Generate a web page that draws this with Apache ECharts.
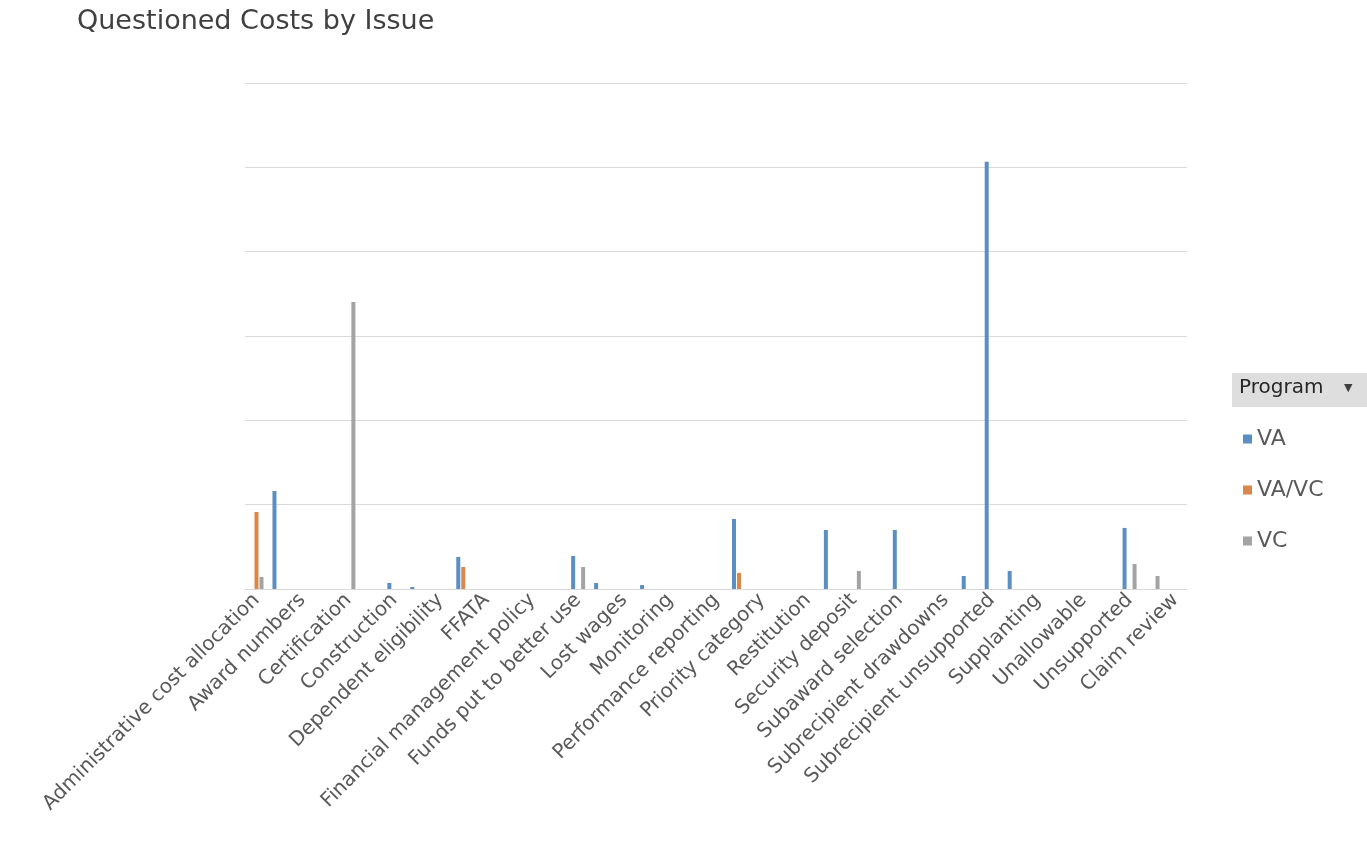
<!DOCTYPE html>
<html>
<head>
<meta charset="utf-8">
<script src="https://cdn.jsdelivr.net/npm/echarts@6/dist/echarts.min.js"></script>
<style>
html,body{margin:0;padding:0;background:#fff;}
#chart{width:1367px;height:858px;}
</style>
</head>
<body>
<div id="chart"></div>
<script>
// Visible issue labels (the chart shows every other category label)
const visibleIssues = [
  'Administrative cost allocation','Award numbers','Certification','Construction',
  'Dependent eligibility','FFATA','Financial management policy','Funds put to better use',
  'Lost wages','Monitoring','Performance reporting','Priority category','Restitution',
  'Security deposit','Subaward selection','Subrecipient drawdowns','Subrecipient unsupported',
  'Supplanting','Unallowable','Unsupported','Claim review'
];
const seriesNames = ['VA','VA/VC','VC'];
// Values per category slot (41 slots; labels shown on even slots)
const vaValues = [0,116200,0,0,0,0,7100,2400,0,38000,0,0,0,0,39100,7100,0,4700,0,0,0,83000,0,0,0,70000,0,0,70000,0,0,15400,506500,21400,0,0,0,0,72400,0,0];
const vavcValues = [91300,0,0,0,0,0,0,0,0,26100,0,0,0,0,0,0,0,0,0,0,0,19000,0,0,0,0,0,0,0,0,0,0,0,0,0,0,0,0,0,0,0];
const vcValues = [14200,0,0,0,340400,0,0,0,0,0,0,0,0,0,26100,0,0,0,0,0,0,0,0,0,0,0,21400,0,0,0,0,0,0,0,0,0,0,0,29700,15400,0];

const categories = [];
for (let i = 0; i < visibleIssues.length; i++) {
  categories.push(visibleIssues[i]);
  if (i < visibleIssues.length - 1) categories.push('\u200b'.repeat(i + 1));
}

const colors = ['#5b8fc4', '#d9874a', '#a3a3a3'];
const fontFam = '"DejaVu Sans", "Open Sans", sans-serif';

function toData(arr){ return arr.map(v => v === 0 ? null : v); }

const chart = echarts.init(document.getElementById('chart'));
chart.setOption({
  animation: false,
  color: colors,
  title: {
    text: 'Questioned Costs by Issue',
    left: 72, top: 3,
    textStyle: { fontSize: 27, fontWeight: 'normal', color: '#404040', fontFamily: fontFam }
  },
  grid: { left: 245, right: 180, top: 83, bottom: 269, containLabel: false },
  legend: {
    orient: 'vertical', left: 1238, top: 423, itemGap: 29, itemWidth: 9, itemHeight: 9,
    icon: 'rect',
    textStyle: { fontSize: 22, color: '#595959', fontFamily: fontFam },
    data: seriesNames
  },
  xAxis: {
    type: 'category', data: categories,
    axisLine: { lineStyle: { color: '#d9d9d9', width: 1 } },
    axisTick: { show: false },
    axisLabel: { interval: 1, rotate: 45, margin: 8, fontSize: 20, color: '#595959', fontFamily: fontFam }
  },
  yAxis: {
    type: 'value', min: 0, max: 600000, interval: 100000,
    axisLabel: { show: false }, axisLine: { show: false }, axisTick: { show: false },
    splitLine: { lineStyle: { color: '#d9d9d9', width: 1 } }
  },
  series: [
    { name: 'VA', type: 'bar', data: toData(vaValues), barWidth: 4, barGap: '25%' },
    { name: 'VA/VC', type: 'bar', data: toData(vavcValues), barWidth: 4, barGap: '25%' },
    { name: 'VC', type: 'bar', data: toData(vcValues), barWidth: 4, barGap: '25%' }
  ],
  graphic: [
    { type: 'rect', left: 1232, top: 373, shape: { width: 135, height: 34 }, style: { fill: '#dedede' } },
    { type: 'text', left: 1239, top: 378, style: { text: 'Program', fontSize: 20, fill: '#262626', fontFamily: fontFam } },
    { type: 'text', left: 1344, top: 383, style: { text: '\u25BC', fontSize: 11, fill: '#404040', fontFamily: fontFam } }
  ]
});
</script>
</body>
</html>
